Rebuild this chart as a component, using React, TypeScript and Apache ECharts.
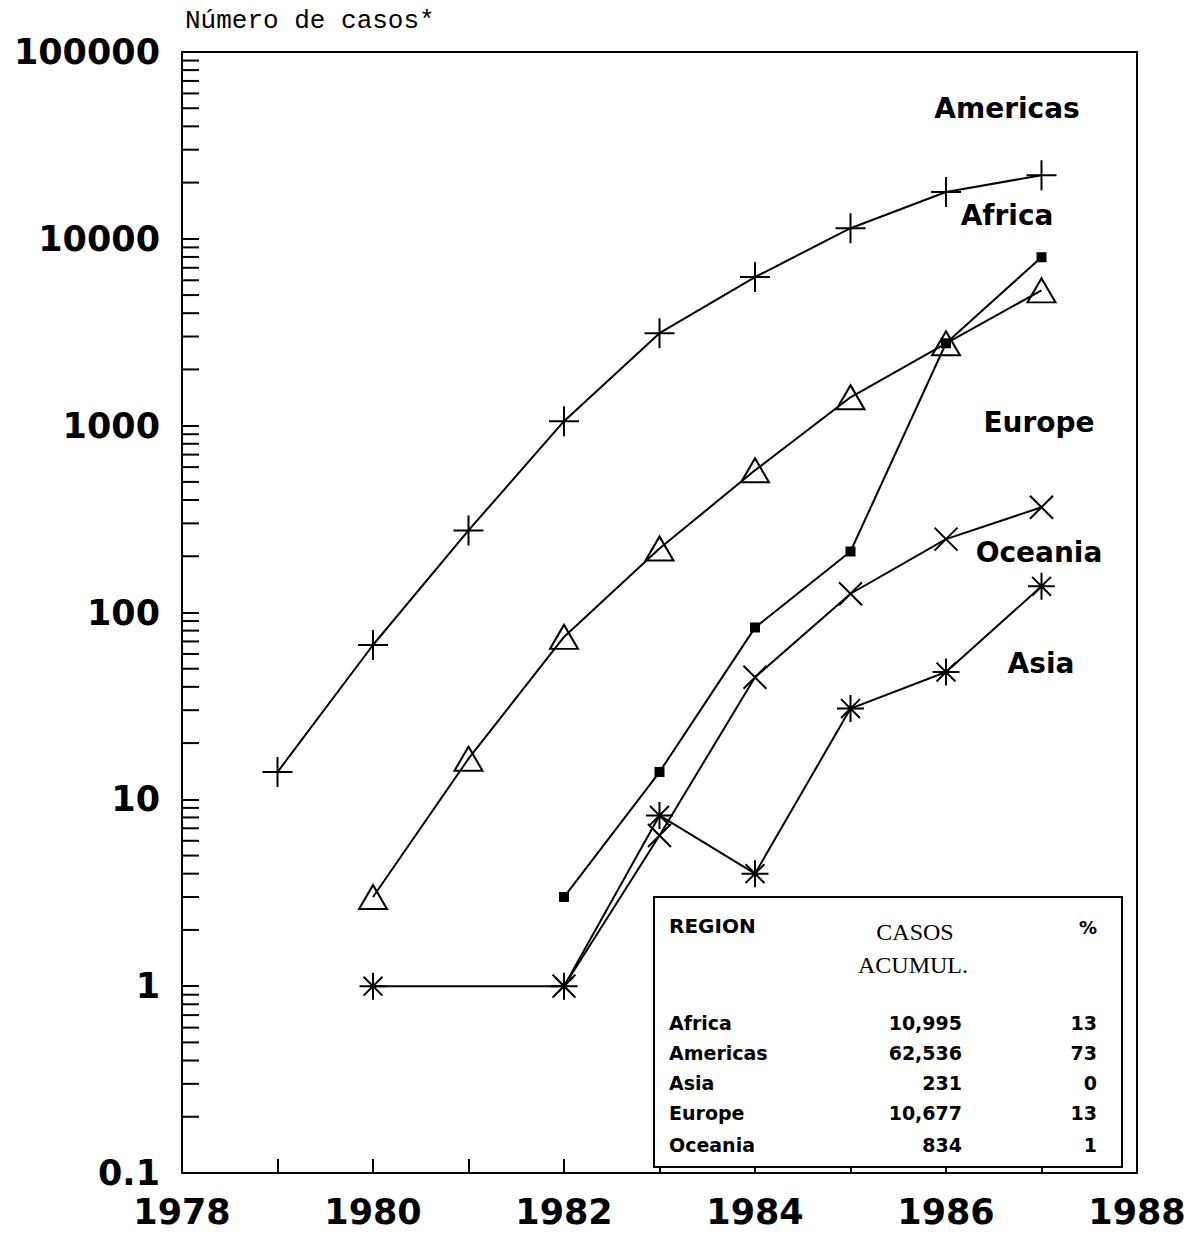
import React, { useEffect, useRef } from "react";
import * as echarts from "echarts";

// ---- data (annual reported cases) ----
const americasYears = [1979, 1980, 1981, 1982, 1983, 1984, 1985, 1986, 1987];
const americasCases = [14, 67, 275, 1057, 3125, 6240, 11400, 17800, 21900];

const africaYears = [1982, 1983, 1984, 1985, 1986, 1987];
const africaCases = [3, 14, 83, 212, 2760, 7980];

const europeYears = [1980, 1981, 1982, 1983, 1984, 1985, 1986, 1987];
const europeCases = [3, 16.5, 74, 220, 577, 1419, 2760, 5300];

const oceaniaYears = [1982, 1983, 1984, 1985, 1986, 1987];
const oceaniaCases = [1, 6.4, 45, 126, 247, 366];

const asiaYears = [1980, 1982, 1983, 1984, 1985, 1986, 1987];
const asiaCases = [1, 1, 8.2, 4, 30.6, 48, 138];

// ---- table ----
const tableRegions = ["Africa", "Americas", "Asia", "Europe", "Oceania"];
const tableCases = [10995, 62536, 231, 10677, 834];
const tablePct = [13, 73, 0, 13, 1];

// ---- labels ----
const axisTitle = "Número de casos*";
const seriesLabels = ["Americas", "Africa", "Europe", "Oceania", "Asia"];
const seriesLabelPos: [number, number][] = [
  [1007, 108],
  [1007, 215],
  [1039, 422],
  [1039, 552],
  [1041, 663],
];

const zip = (xs: number[], ys: number[]) => xs.map((x, i) => [x, ys[i]]);

const plusPath = "path://M15,0L15,30M0,15L30,15";
const crossPath = "path://M0,0L20,20M20,0L0,20";
const starPath = "path://M10,0L10,20M0,10L20,10M3,3L17,17M17,3L3,17";

export default function App() {
  const ref = useRef<HTMLDivElement>(null);

  useEffect(() => {
    document.body.style.margin = "0";
    if (!ref.current) return;
    const chart = echarts.init(ref.current, undefined, { renderer: "svg" });

    // minor log ticks (2..9 per decade)
    const minorTicks: number[][] = [];
    for (let k = -1; k <= 4; k++) {
      for (let m = 2; m <= 9; m++) minorTicks.push([1978, m * Math.pow(10, k)]);
    }

    const lineBase = (name: string, data: number[][], symbol: string, size: any, fill: string) => ({
      name,
      type: "line",
      data,
      symbol,
      symbolSize: size,
      showAllSymbol: true,
      silent: true,
      z: 3,
      lineStyle: { color: "#000", width: 2 },
      itemStyle: { color: fill, borderColor: "#000", borderWidth: 2 },
      emphasis: { disabled: true },
    });

    const rowY = [1023, 1053, 1083, 1113, 1145];
    const tableFont = 'bold 19px "DejaVu Sans"';
    const graphics: any[] = [
      {
        type: "text",
        x: 185,
        y: 21,
        z: 100,
        style: {
          text: axisTitle,
          font: '26px "Liberation Mono"',
          fill: "#000",
          textAlign: "left",
          textVerticalAlign: "middle",
        },
      },
      ...seriesLabels.map((t, i) => ({
        type: "text",
        x: seriesLabelPos[i][0],
        y: seriesLabelPos[i][1],
        z: 100,
        style: {
          text: t,
          font: 'bold 28px "DejaVu Sans"',
          fill: "#000",
          textAlign: "center",
          textVerticalAlign: "middle",
        },
      })),
      {
        type: "rect",
        z: 100,
        shape: { x: 654, y: 897, width: 468, height: 270 },
        style: { fill: "#fff", stroke: "#000", lineWidth: 2 },
      },
      {
        type: "text",
        x: 669,
        y: 926,
        z: 101,
        style: { text: "REGION", font: 'bold 20px "DejaVu Sans"', fill: "#000", textAlign: "left", textVerticalAlign: "middle" },
      },
      {
        type: "text",
        x: 915,
        y: 932,
        z: 101,
        style: { text: "CASOS", font: '24px "Liberation Serif"', fill: "#000", textAlign: "center", textVerticalAlign: "middle" },
      },
      {
        type: "text",
        x: 913,
        y: 965,
        z: 101,
        style: { text: "ACUMUL.", font: '24px "Liberation Serif"', fill: "#000", textAlign: "center", textVerticalAlign: "middle" },
      },
      {
        type: "text",
        x: 1097,
        y: 927,
        z: 101,
        style: { text: "%", font: 'bold 18px "DejaVu Sans"', fill: "#000", textAlign: "right", textVerticalAlign: "middle" },
      },
      ...tableRegions.flatMap((r, i) => [
        {
          type: "text",
          x: 669,
          y: rowY[i],
          z: 101,
          style: { text: r, font: tableFont, fill: "#000", textAlign: "left", textVerticalAlign: "middle" },
        },
        {
          type: "text",
          x: 962,
          y: rowY[i],
          z: 101,
          style: { text: tableCases[i].toLocaleString("en-US"), font: tableFont, fill: "#000", textAlign: "right", textVerticalAlign: "middle" },
        },
        {
          type: "text",
          x: 1097,
          y: rowY[i],
          z: 101,
          style: { text: String(tablePct[i]), font: tableFont, fill: "#000", textAlign: "right", textVerticalAlign: "middle" },
        },
      ]),
    ];

    chart.setOption({
      animation: false,
      backgroundColor: "#fff",
      grid: {
        left: 182,
        right: 67,
        top: 52,
        bottom: 62,
        containLabel: false,
        outerBoundsMode: "none",
        show: true,
        borderColor: "#000",
        borderWidth: 2,
        backgroundColor: "transparent",
      },
      xAxis: {
        type: "value",
        min: 1978,
        max: 1988,
        interval: 1,
        splitLine: { show: false },
        axisLine: { lineStyle: { color: "#000", width: 2 } },
        axisTick: { inside: true, length: 14, lineStyle: { color: "#000", width: 2 } },
        axisLabel: {
          margin: 21,
          color: "#000",
          fontFamily: "DejaVu Sans",
          fontWeight: "bold",
          fontSize: 35,
          formatter: (v: number) => (Math.round(v) % 2 === 0 ? String(Math.round(v)) : ""),
        },
      },
      yAxis: {
        type: "log",
        logBase: 10,
        min: 0.1,
        max: 100000,
        interval: 1,
        splitLine: { show: false },
        axisLine: { show: true, lineStyle: { color: "#000", width: 2 } },
        axisTick: { show: true, inside: true, length: 17, lineStyle: { color: "#000", width: 2 } },
        axisLabel: {
          margin: 22,
          color: "#000",
          fontFamily: "DejaVu Sans",
          fontWeight: "bold",
          fontSize: 35,
          padding: [10, 0, 0, 0],
          formatter: (v: number) => String(parseFloat(v.toPrecision(4))),
        },
      },
      series: [
        {
          type: "custom",
          silent: true,
          clip: false,
          z: 2,
          data: minorTicks,
          renderItem: (params: any, api: any) => {
            const p = api.coord([api.value(0), api.value(1)]);
            return {
              type: "line",
              shape: { x1: p[0], y1: p[1], x2: p[0] + 17, y2: p[1] },
              style: { stroke: "#000", lineWidth: 2 },
            };
          },
        },
        lineBase("Americas", zip(americasYears, americasCases), plusPath, 30, "#000"),
        lineBase("Africa", zip(africaYears, africaCases), "rect", 8, "#000"),
        lineBase("Europe", zip(europeYears, europeCases), "triangle", [28, 24], "rgba(0,0,0,0)"),
        lineBase("Oceania", zip(oceaniaYears, oceaniaCases), crossPath, 23, "#000"),
        lineBase("Asia", zip(asiaYears, asiaCases), starPath, 27, "#000"),
      ],
      graphic: { elements: graphics },
    });

    return () => chart.dispose();
  }, []);

  return <div ref={ref} style={{ width: 1204, height: 1235 }} />;
}
